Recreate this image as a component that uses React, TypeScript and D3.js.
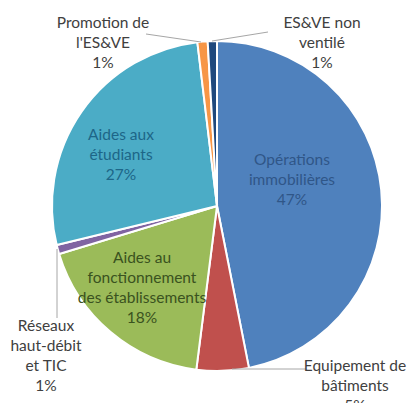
import React from "react";
import * as d3 from "d3";

const categories = [
  "Opérations immobilières",
  "Equipement de bâtiments",
  "Aides au fonctionnement des établissements",
  "Réseaux haut-débit et TIC",
  "Aides aux étudiants",
  "Promotion de l'ES&VE",
  "ES&VE non ventilé",
];
const values = [46.9, 5.1, 18.3, 0.9, 26.9, 1.0, 0.9];
const percentLabels = ["47%", "5%", "18%", "1%", "27%", "1%", "1%"];
const colors = ["#4F81BD", "#C0504D", "#9BBB59", "#8064A2", "#4BACC6", "#F79646", "#1F497D"];
const labelLines = [
  ["Opérations", "immobilières"],
  ["Equipement de", "bâtiments"],
  ["Aides au", "fonctionnement", "des établissements"],
  ["Réseaux", "haut-débit", "et TIC"],
  ["Aides aux", "étudiants"],
  ["Promotion de", "l'ES&VE"],
  ["ES&VE non", "ventilé"],
];

const W = 410;
const H = 403;
const cx = 217;
const cy = 206;
const R = 165;

const labelPos: { x: number; y: number; color: string; leader?: [number, number][] }[] = [
  { x: 292, y: 165, color: "#2f5688" },
  { x: 355, y: 371, color: "#404040", leader: [[232, 369], [306, 369]] },
  { x: 142, y: 263, color: "#3a5220" },
  { x: 46, y: 331, color: "#404040", leader: [[57, 249], [57, 318]] },
  { x: 121, y: 140, color: "#1d6688" },
  { x: 103, y: 28, color: "#404040", leader: [[146, 34], [201, 42]] },
  { x: 322, y: 28, color: "#404040", leader: [[268, 32], [212, 41]] },
];

export default function App() {
  const data = categories.map((c, i) => ({ c, v: values[i], i }));
  const pie = d3.pie<any>().sort(null).value((d) => d.v);
  const arcs = pie(data);
  const arc = d3.arc<any>().innerRadius(0).outerRadius(R);
  const lh = 20;
  return (
    <svg width={W} height={H} style={{ position: "absolute", left: 0, top: 0, background: "#fff" }}>
      <g transform={`translate(${cx},${cy})`}>
        {arcs.map((a, i) => (
          <path key={i} d={arc(a) as string} fill={colors[i]} stroke="#fff" strokeWidth={2} />
        ))}
      </g>
      {labelPos.map((p, i) =>
        p.leader ? (
          <polyline
            key={"l" + i}
            points={p.leader.map((q) => q.join(",")).join(" ")}
            fill="none"
            stroke="#a6a6a6"
            strokeWidth={1}
          />
        ) : null
      )}
      {labelPos.map((p, i) => {
        const lines = [...labelLines[i], percentLabels[i]];
        return (
          <text
            key={"t" + i}
            x={p.x}
            y={p.y}
            textAnchor="middle"
            fontFamily="Lato, 'Noto Sans', sans-serif"
            fontSize={15.5}
            fill={p.color}
          >
            {lines.map((ln, k) => (
              <tspan key={k} x={p.x} dy={k === 0 ? 0 : lh}>
                {ln}
              </tspan>
            ))}
          </text>
        );
      })}
    </svg>
  );
}
